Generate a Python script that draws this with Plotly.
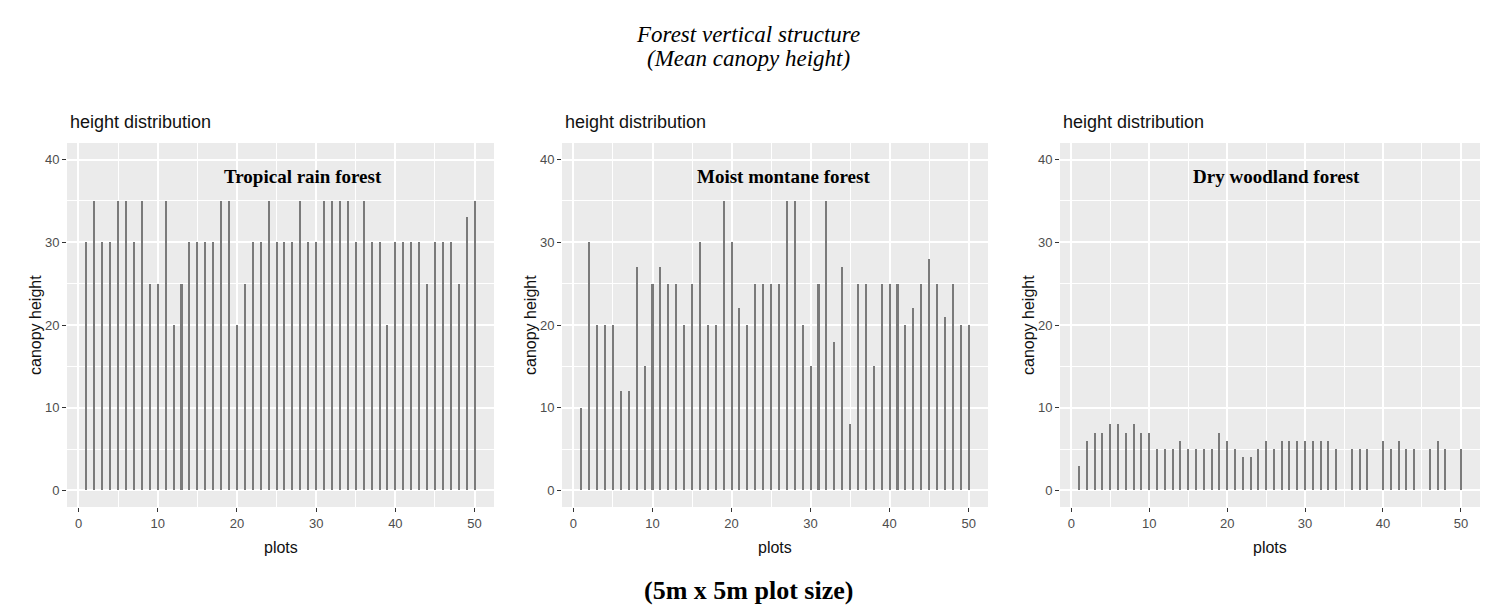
import plotly.graph_objects as go

# the page adds an 8px body margin; size the figure so it fits the window
OFF = 8
W, H = 1495 - OFF, 609 - OFF

plots = list(range(1, 51))

tropical = [30, 35, 30, 30, 35, 35, 30, 35, 25, 25,
            35, 20, 25, 30, 30, 30, 30, 35, 35, 20,
            25, 30, 30, 35, 30, 30, 30, 35, 30, 30,
            35, 35, 35, 35, 30, 35, 30, 30, 20, 30,
            30, 30, 30, 25, 30, 30, 30, 25, 33, 35]

moist = [10, 30, 20, 20, 20, 12, 12, 27, 15, 25,
         27, 25, 25, 20, 25, 30, 20, 20, 35, 30,
         22, 20, 25, 25, 25, 25, 35, 35, 20, 15,
         25, 35, 18, 27, 8, 25, 25, 15, 25, 25,
         25, 20, 22, 25, 28, 25, 21, 25, 20, 20]

dry = [3, 6, 7, 7, 8, 8, 7, 8, 7, 7,
       5, 5, 5, 6, 5, 5, 5, 5, 7, 6,
       5, 4, 4, 5, 6, 5, 6, 6, 6, 6,
       6, 6, 6, 5, None, 5, 5, 5, None, 6,
       5, 6, 5, 5, None, 5, 6, 5, None, 5]

panel_titles = ["Tropical rain forest", "Moist montane forest", "Dry woodland forest"]
series = [tropical, moist, dry]

x_ticks = [0, 10, 20, 30, 40, 50]
y_ticks = [0, 10, 20, 30, 40]

# panel pixel boxes (left, right) in window pixels
panel_px = [(67, 494), (562, 988), (1060, 1480)]
top_px, bot_px = 143, 507
label_x_px = [303, 783, 1276]


def px(x):
    return (x - OFF) / W


def py(y):
    return 1 - (y - OFF) / H


fig = go.Figure()

for i, vals in enumerate(series):
    sfx = "" if i == 0 else str(i + 1)
    fig.add_trace(go.Bar(
        x=plots, y=vals, width=0.26,
        marker=dict(color="#7a7a7a", line=dict(width=0)),
        xaxis="x" + sfx, yaxis="y" + sfx, showlegend=False,
    ))
    l, r = panel_px[i]
    axis_common = dict(
        showgrid=True, gridcolor="white", gridwidth=1.6,
        zeroline=False, showline=False,
        ticks="outside", ticklen=4, tickwidth=1, tickcolor="#333333",
        tickfont=dict(family="Liberation Sans", size=13, color="#4D4D4D"),
        minor=dict(showgrid=True, gridcolor="white", gridwidth=0.8, dtick=5, ticks=""),
        fixedrange=True,
    )
    fig.update_layout(**{
        "xaxis" + sfx: dict(
            domain=[px(l), px(r)], range=[-1.45, 52.45],
            tickmode="array", tickvals=x_ticks,
            anchor="y" + sfx, **axis_common,
        ),
        "yaxis" + sfx: dict(
            domain=[py(bot_px), py(top_px)], range=[-2, 42],
            tickmode="array", tickvals=y_ticks,
            anchor="x" + sfx, **axis_common,
        ),
    })
    # subtitle
    fig.add_annotation(x=px(l + 1), y=py(122), xref="paper", yref="paper",
                       text="height distribution", showarrow=False,
                       xanchor="left", yanchor="middle",
                       font=dict(family="Liberation Sans", size=18, color="#111111"))
    # x axis title
    fig.add_annotation(x=px((l + r) / 2), y=py(547), xref="paper", yref="paper",
                       text="plots", showarrow=False,
                       xanchor="center", yanchor="middle",
                       font=dict(family="Liberation Sans", size=16, color="#111111"))
    # y axis title
    fig.add_annotation(x=px(l - 32), y=py(325), xref="paper", yref="paper",
                       text="canopy height", showarrow=False, textangle=-90,
                       xanchor="center", yanchor="middle",
                       font=dict(family="Liberation Sans", size=16, color="#111111"))
    # panel label
    fig.add_annotation(x=px(label_x_px[i]), y=py(177), xref="paper", yref="paper",
                       text="<b>" + panel_titles[i] + "</b>", showarrow=False,
                       xanchor="center", yanchor="middle",
                       font=dict(family="Liberation Serif", size=19, color="#000000"))

# main title
fig.add_annotation(x=px(748), y=py(35), xref="paper", yref="paper",
                   text="<i>Forest vertical structure</i>", showarrow=False,
                   xanchor="center", yanchor="middle",
                   font=dict(family="Liberation Serif", size=23, color="#000000"))
fig.add_annotation(x=px(748), y=py(58), xref="paper", yref="paper",
                   text="<i>(Mean canopy height)</i>", showarrow=False,
                   xanchor="center", yanchor="middle",
                   font=dict(family="Liberation Serif", size=23, color="#000000"))
# bottom caption
fig.add_annotation(x=px(748), y=py(590), xref="paper", yref="paper",
                   text="<b>(5m x 5m plot size)</b>", showarrow=False,
                   xanchor="center", yanchor="middle",
                   font=dict(family="Liberation Serif", size=26, color="#000000"))

fig.update_layout(
    width=W, height=H,
    margin=dict(l=0, r=0, t=0, b=0),
    paper_bgcolor="white",
    plot_bgcolor="#EBEBEB",
    bargap=0,
)

fig.write_html("out.html", config={"displayModeBar": False})
